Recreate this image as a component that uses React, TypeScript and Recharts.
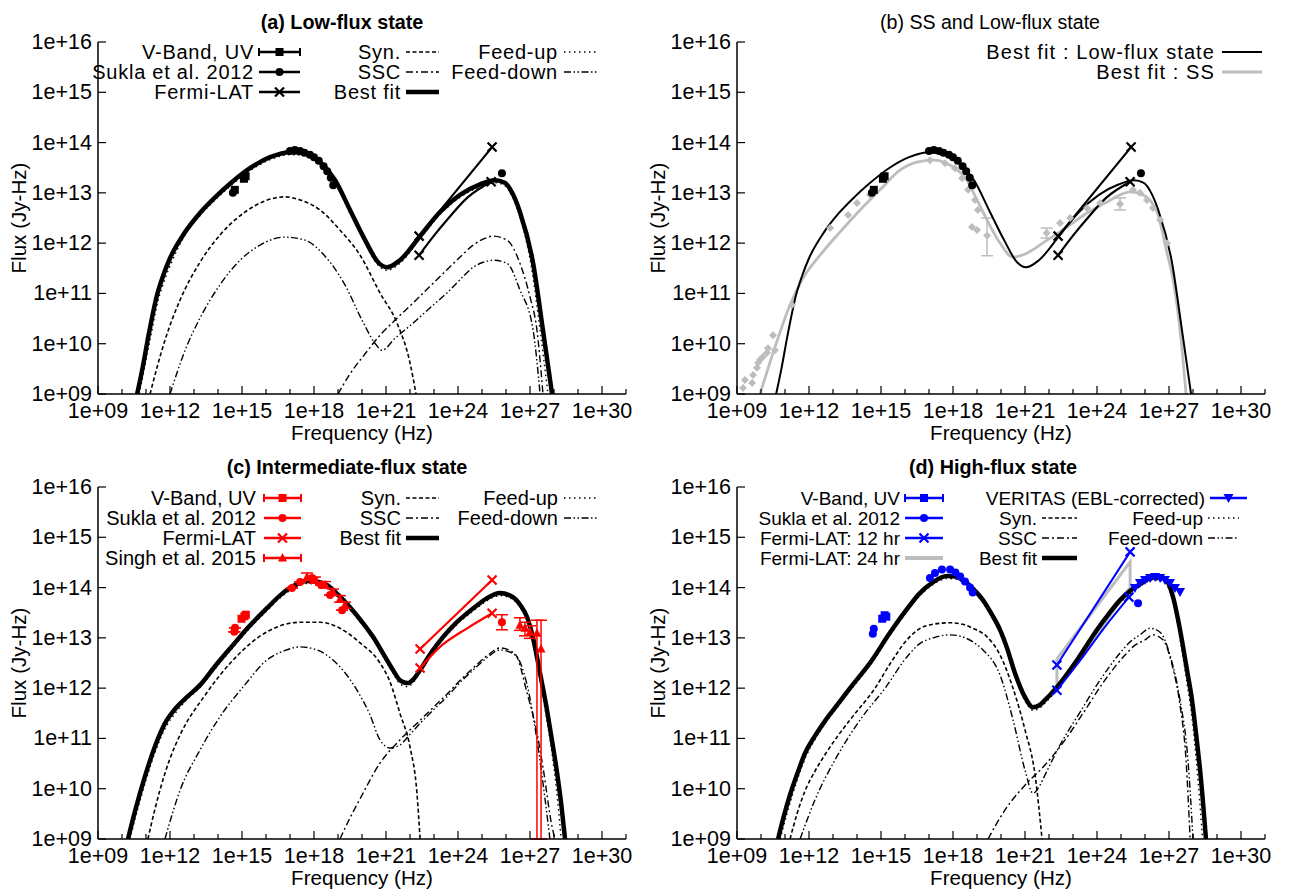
import React from 'react'
import { ComposedChart, Line, Scatter, XAxis, YAxis, ErrorBar } from 'recharts'

// all values are log10(frequency / Hz) and log10(flux / Jy-Hz)
type P = number[]

const FONT = '"Liberation Sans", Arial, Helvetica, sans-serif'
const X_TICKS = [9, 10, 11, 12, 13, 14, 15, 16, 17, 18, 19, 20, 21, 22, 23, 24, 25, 26, 27, 28, 29, 30, 31]
const Y_TICKS = [9, 10, 11, 12, 13, 14, 15, 16]
const RED = '#ff0000'
const BLUE = '#0000ff'
const GREY = '#bdbdbd'
const DASH = { syn: '4 2.5', ssc: '7 3 2 3', up: '1.5 3.5', down: '7 2.5 1.5 2.5 1.5 2.5' }
const FS = 21.5

// ---- (a) low-flux state
const lowBest: P[] = [[10.63, 9.0], [10.85, 9.5], [11.1, 10.15], [11.45, 10.95], [11.75, 11.4], [12.0, 11.7], [12.6, 12.2], [13.25, 12.6], [13.9, 12.92], [14.5, 13.18], [15.33, 13.49], [16.17, 13.71], [17.0, 13.81], [17.63, 13.79], [18.25, 13.61], [18.88, 13.25], [19.5, 12.66], [20.13, 12.06], [20.67, 11.62], [21.04, 11.52], [21.58, 11.66], [22.42, 12.14], [23.25, 12.62], [24.08, 12.96], [24.92, 13.17], [25.54, 13.25], [25.95, 13.2], [26.29, 12.97], [26.58, 12.62], [27.13, 11.6], [27.54, 10.27], [27.92, 9.0]]
const lowFeedUp: P[] = [[10.72, 9.0], [10.95, 9.55], [11.2, 10.15], [11.5, 10.85], [11.8, 11.3], [12.05, 11.6], [12.6, 12.14], [13.25, 12.55], [13.9, 12.87], [14.5, 13.13], [15.33, 13.44], [16.17, 13.66], [17.0, 13.76], [17.63, 13.74], [18.25, 13.56], [18.88, 13.2], [19.5, 12.61], [20.13, 12.01], [20.67, 11.56], [21.04, 11.46], [21.58, 11.6], [22.42, 12.09], [23.25, 12.57], [24.08, 12.91], [24.92, 13.12], [25.54, 13.2], [25.95, 13.14], [26.29, 12.9], [26.58, 12.52], [27.05, 11.55], [27.4, 10.35], [27.75, 9.0]]
const lowSyn: P[] = [[11.17, 9.0], [11.5, 9.6], [11.79, 10.07], [12.42, 10.87], [13.25, 11.62], [14.08, 12.16], [15.13, 12.62], [15.96, 12.84], [16.79, 12.92], [17.42, 12.86], [18.25, 12.66], [19.08, 12.26], [19.92, 11.76], [20.75, 11.01], [21.46, 10.41], [22.0, 9.62], [22.25, 9.0]]
const lowSSC: P[] = [[19.0, 9.0], [19.5, 9.4], [20.13, 9.8], [20.75, 10.17], [21.4, 10.48], [22.13, 10.81], [22.85, 11.15], [23.54, 11.47], [24.1, 11.73], [24.63, 11.96], [25.05, 12.08], [25.46, 12.14], [26.04, 12.06], [26.58, 11.6], [27.0, 10.93], [27.29, 10.27], [27.54, 9.0]]
const lowFeedDown: P[] = [[12.0, 9.0], [12.63, 9.87], [13.25, 10.51], [14.08, 11.17], [14.92, 11.66], [15.75, 11.96], [16.79, 12.12], [17.63, 12.06], [18.46, 11.74], [19.29, 11.17], [20.0, 10.47], [20.54, 10.01], [20.83, 9.87], [21.38, 10.11], [22.13, 10.41], [22.85, 10.72], [23.54, 11.01], [24.1, 11.28], [24.63, 11.52], [25.05, 11.62], [25.46, 11.66], [26.04, 11.6], [26.58, 11.07], [27.13, 10.27], [27.42, 9.0]]
const lowUV: P[] = [[14.7, 13.06], [15.08, 13.28], [15.15, 13.33]]
const lowSukla: P[] = [[14.62, 13.0], [17.0, 13.83], [17.2, 13.85], [17.42, 13.83], [17.6, 13.8], [17.83, 13.76], [18.0, 13.71], [18.2, 13.64], [18.4, 13.53], [18.55, 13.43], [18.7, 13.3], [18.8, 13.15], [25.83, 13.39]]
const lowFermiHi: P[] = [[22.38, 12.14], [25.42, 13.91]]
const lowFermiLo: P[] = [[22.38, 11.76], [23.0, 12.15], [23.54, 12.46], [24.38, 12.9], [25.38, 13.22]]

// ---- (b) SS state
const ssBest: P[] = [[9.96, 9.0], [10.58, 9.93], [11.21, 10.77], [11.71, 11.27], [12.46, 11.76], [13.29, 12.22], [14.13, 12.66], [14.96, 13.06], [15.79, 13.45], [16.5, 13.61], [17.17, 13.65], [17.88, 13.55], [18.58, 13.25], [19.0, 12.86], [19.42, 12.46], [19.96, 12.0], [20.5, 11.72], [21.08, 11.8], [21.92, 12.06], [22.75, 12.32], [23.58, 12.6], [24.42, 12.82], [25.38, 13.02], [25.92, 12.96], [26.5, 12.62], [26.92, 11.8], [27.17, 11.27], [27.46, 10.27], [27.71, 9.0]]
const ssData: P[] = [[9.25, 9.12], [9.33, 9.28], [9.63, 9.22], [9.67, 9.38], [9.83, 9.52], [9.88, 9.62], [9.96, 9.68], [10.08, 9.74], [10.25, 9.82], [10.29, 9.91], [10.5, 10.17], [10.58, 9.87], [11.29, 10.77], [12.88, 12.3], [13.63, 12.56], [14.0, 12.8], [14.54, 12.96], [17.04, 13.65], [17.67, 13.59], [18.08, 13.49], [18.38, 13.29], [18.63, 13.06], [18.92, 12.86], [19.04, 12.66], [18.79, 12.32], [19.0, 12.26], [22.46, 12.4], [22.88, 12.5], [23.58, 12.7], [24.13, 12.8], [25.5, 13.06], [25.79, 13.0], [26.08, 12.86], [26.33, 12.7], [26.63, 12.46], [26.92, 12.0]]
const ssErr: P[] = [[19.42, 12.15, 0.4, 0.35], [24.96, 12.78, 0.12, 0.12], [21.9, 12.2, 0.1, 0.1]]

// ---- (c) intermediate-flux state
const midBest: P[] = [[10.25, 9.0], [10.54, 9.55], [10.96, 10.25], [11.38, 10.85], [11.79, 11.3], [12.2, 11.58], [12.7, 11.82], [13.25, 12.06], [13.9, 12.45], [14.63, 12.86], [15.3, 13.23], [16.04, 13.59], [16.6, 13.85], [17.13, 14.03], [17.71, 14.13], [18.2, 14.11], [18.54, 14.05], [19.0, 13.86], [19.5, 13.61], [20.0, 13.32], [20.46, 13.02], [20.9, 12.67], [21.29, 12.36], [21.6, 12.15], [21.9, 12.1], [22.15, 12.18], [22.42, 12.36], [22.9, 12.72], [23.38, 13.02], [23.9, 13.29], [24.38, 13.49], [24.8, 13.65], [25.21, 13.79], [25.75, 13.89], [26.29, 13.81], [26.6, 13.65], [26.88, 13.41], [27.1, 13.05], [27.29, 12.62], [27.5, 12.1], [27.71, 11.56], [27.92, 10.95], [28.13, 10.31], [28.3, 9.7], [28.46, 9.0]]
const midFeedUp: P[] = [[10.33, 9.0], [10.6, 9.5], [11.0, 10.17], [11.42, 10.78], [11.83, 11.23], [12.25, 11.52], [12.7, 11.77], [13.25, 12.01], [13.9, 12.4], [14.63, 12.81], [15.3, 13.18], [16.04, 13.54], [16.6, 13.8], [17.13, 13.98], [17.71, 14.08], [18.2, 14.06], [18.54, 14.0], [19.0, 13.81], [19.5, 13.56], [20.0, 13.27], [20.46, 12.97], [20.9, 12.62], [21.29, 12.3], [21.6, 12.08], [21.9, 12.03], [22.15, 12.12], [22.42, 12.31], [22.9, 12.67], [23.38, 12.97], [23.9, 13.24], [24.38, 13.44], [24.8, 13.6], [25.21, 13.74], [25.75, 13.84], [26.29, 13.76], [26.6, 13.6], [26.88, 13.33], [27.1, 12.95], [27.29, 12.5], [27.5, 11.95], [27.71, 11.35], [27.92, 10.7], [28.1, 10.0], [28.3, 9.0]]
const midSyn: P[] = [[11.08, 9.0], [11.35, 9.55], [11.58, 9.97], [12.0, 10.6], [12.42, 11.07], [13.46, 11.86], [14.63, 12.56], [16.04, 13.12], [16.8, 13.27], [17.42, 13.31], [18.25, 13.31], [19.08, 13.19], [19.92, 12.9], [20.75, 12.5], [21.17, 12.12], [21.58, 11.5], [22.0, 10.83], [22.29, 9.91], [22.42, 9.0]]
const midSSC: P[] = [[19.08, 9.0], [19.5, 9.42], [19.92, 9.8], [20.75, 10.51], [21.58, 10.97], [22.42, 11.36], [23.0, 11.63], [23.54, 11.88], [24.1, 12.16], [24.63, 12.4], [25.2, 12.64], [25.75, 12.8], [26.38, 12.68], [26.88, 11.9], [27.29, 11.11], [27.54, 10.43], [27.92, 9.24], [28.04, 9.0]]
const midFeedDown: P[] = [[11.79, 9.0], [12.42, 9.97], [13.25, 10.77], [14.08, 11.43], [15.04, 12.02], [16.04, 12.56], [16.8, 12.75], [17.42, 12.82], [18.13, 12.76], [18.79, 12.56], [19.3, 12.3], [19.79, 11.96], [20.33, 11.47], [20.75, 10.97], [21.17, 10.81], [21.58, 10.87], [22.0, 11.08], [22.42, 11.3], [23.0, 11.58], [23.54, 11.83], [24.1, 12.12], [24.63, 12.36], [25.2, 12.6], [25.75, 12.76], [26.38, 12.66], [26.88, 12.06], [27.29, 10.97], [27.63, 9.78], [27.83, 9.0]]
const midUV: P[] = [[14.98, 13.38], [15.1, 13.43], [15.16, 13.46]]
const midSukla: P[] = [[14.68, 13.12], [14.71, 13.2], [17.08, 13.99], [17.42, 14.11], [17.92, 14.19], [18.3, 14.05], [18.67, 13.85], [19.17, 13.55], [25.83, 13.31, 0.15, 0.15]]
// the last two VHE points have lower bars reaching the bottom of the frame
const midSingh: P[] = [[17.71, 14.21, 0.07, 0.08], [18.04, 14.15, 0.06, 0.06], [18.46, 14.05, 0.06, 0.07], [18.79, 13.91, 0.06, 0.06], [19.08, 13.77, 0.06, 0.07], [19.29, 13.65, 0.06, 0.06], [26.58, 13.25, 0.1, 0.15], [26.79, 13.19, 0.15, 0.12], [27.0, 13.11, 0.12, 0.13], [27.29, 13.09, 4.09, 0.26], [27.46, 12.78, 3.78, 0.57]]
const midFermiHi: P[] = [[22.42, 12.78], [25.42, 14.15]]
const midFermiLo: P[] = [[22.42, 12.4], [23.25, 12.82], [24.38, 13.19], [25.42, 13.49]]

// ---- (d) high-flux state
const highBest: P[] = [[10.71, 9.0], [10.95, 9.45], [11.21, 9.88], [11.55, 10.35], [11.83, 10.7], [12.25, 11.05], [12.67, 11.35], [13.2, 11.68], [13.71, 12.0], [14.63, 12.56], [15.3, 13.05], [16.08, 13.57], [16.6, 13.88], [17.17, 14.11], [17.75, 14.23], [18.1, 14.22], [18.42, 14.15], [18.85, 13.97], [19.25, 13.75], [19.6, 13.48], [19.96, 13.16], [20.25, 12.8], [20.58, 12.3], [21.0, 11.82], [21.33, 11.62], [21.6, 11.66], [21.83, 11.76], [22.33, 12.02], [23.17, 12.56], [24.0, 13.16], [24.5, 13.48], [24.96, 13.75], [25.4, 13.94], [25.79, 14.07], [26.33, 14.2], [26.7, 14.2], [26.92, 14.13], [27.17, 13.81], [27.46, 13.16], [27.75, 12.36], [27.96, 11.76], [28.15, 11.0], [28.33, 10.2], [28.54, 9.0]]
const highFeedUp: P[] = [[10.8, 9.0], [11.05, 9.45], [11.3, 9.86], [11.6, 10.3], [11.88, 10.65], [12.25, 10.98], [12.67, 11.3], [13.2, 11.63], [13.71, 11.95], [14.63, 12.51], [15.3, 13.0], [16.08, 13.52], [16.6, 13.83], [17.17, 14.06], [17.75, 14.18], [18.1, 14.17], [18.42, 14.1], [18.85, 13.92], [19.25, 13.7], [19.6, 13.43], [19.96, 13.1], [20.25, 12.74], [20.58, 12.23], [21.0, 11.75], [21.33, 11.56], [21.6, 11.6], [21.83, 11.7], [22.33, 11.97], [23.17, 12.51], [24.0, 13.11], [24.5, 13.43], [24.96, 13.7], [25.4, 13.89], [25.79, 14.02], [26.33, 14.15], [26.7, 14.14], [26.92, 14.05], [27.17, 13.7], [27.46, 12.98], [27.75, 12.1], [27.96, 11.4], [28.15, 10.5], [28.4, 9.0]]
const highSyn: P[] = [[11.21, 9.0], [11.5, 9.5], [11.83, 9.95], [12.25, 10.35], [12.67, 10.68], [13.2, 11.05], [13.71, 11.37], [14.75, 12.0], [15.4, 12.5], [16.08, 12.96], [16.6, 13.18], [17.17, 13.27], [17.88, 13.3], [18.4, 13.27], [18.83, 13.19], [19.42, 13.02], [19.96, 12.66], [20.5, 12.0], [21.0, 11.17], [21.42, 10.27], [21.71, 9.0]]
const highSSC: P[] = [[19.46, 9.0], [20.17, 9.58], [21.0, 10.07], [21.83, 10.47], [22.67, 10.97], [23.5, 11.56], [24.33, 12.16], [25.17, 12.66], [25.6, 12.86], [26.0, 12.96], [26.33, 13.06], [26.75, 12.96], [27.13, 12.46], [27.46, 11.66], [27.71, 10.57], [27.88, 9.0]]
const highFeedDown: P[] = [[11.63, 9.0], [12.25, 9.78], [13.08, 10.57], [14.13, 11.37], [15.17, 12.0], [16.08, 12.62], [16.6, 12.88], [17.17, 13.0], [17.88, 13.06], [18.4, 13.02], [18.83, 12.92], [19.25, 12.76], [19.96, 12.26], [20.5, 11.37], [21.0, 10.37], [21.33, 9.91], [21.6, 10.05], [21.83, 10.27], [22.46, 10.87], [23.29, 11.52], [24.13, 12.16], [24.96, 12.7], [25.4, 12.93], [25.79, 13.06], [26.21, 13.19], [26.63, 13.11], [27.04, 12.66], [27.46, 11.76], [27.79, 10.57], [28.0, 9.0]]
const highUV: P[] = [[15.05, 13.38], [15.15, 13.45], [15.22, 13.42]]
const highSukla: P[] = [[14.66, 13.08], [14.7, 13.18], [17.04, 14.19], [17.25, 14.29], [17.54, 14.36], [17.88, 14.36], [18.1, 14.3], [18.3, 14.22], [18.5, 14.12], [18.71, 14.0], [18.82, 13.9], [25.71, 13.69]]
const highFermi12Hi: P[] = [[22.33, 12.46], [25.38, 14.71]]
const highFermi12Lo: P[] = [[22.33, 11.96], [23.3, 12.55], [24.3, 13.2], [25.33, 13.81]]
const highFermi24: P[] = [[22.33, 12.58], [25.38, 14.51], [25.38, 14.01], [22.33, 11.96], [22.33, 12.58]]
const highVeritas: P[] = [[25.58, 13.99], [25.79, 14.09], [26.0, 14.15], [26.21, 14.19], [26.42, 14.21], [26.63, 14.19], [26.83, 14.15], [27.04, 14.09], [27.25, 13.99], [27.46, 13.91]]

const xy = (pts: P[]) =>
  pts.map((p) => ({ x: p[0], y: p[1], ey: [p[2] ?? 0, p[3] ?? p[2] ?? 0] }))
const ends = (pts: P[]) => [pts[0], pts[pts.length - 1]]

function mark(kind: string, color: string, cx: number, cy: number) {
  switch (kind) {
    case 'square':
      return <rect x={cx - 4} y={cy - 4} width={8} height={8} fill={color} />
    case 'circle':
      return <circle cx={cx} cy={cy} r={4} fill={color} />
    case 'cross':
      return <path d={`M${cx - 4.5},${cy - 4.5}L${cx + 4.5},${cy + 4.5}M${cx - 4.5},${cy + 4.5}L${cx + 4.5},${cy - 4.5}`} stroke={color} strokeWidth={2.2} fill="none" />
    case 'tri':
      return <path d={`M${cx},${cy - 5}L${cx + 4.5},${cy + 3.5}L${cx - 4.5},${cy + 3.5}Z`} fill={color} />
    case 'dtri':
      return <path d={`M${cx},${cy + 5}L${cx + 5},${cy - 4}L${cx - 5},${cy - 4}Z`} fill={color} />
    default:
      return <path d={`M${cx},${cy - 4}L${cx + 4},${cy}L${cx},${cy + 4}L${cx - 4},${cy}Z`} fill={color} />
  }
}

const curve = (id: string, pts: P[], color: string, w: number, dash?: string, type: 'monotone' | 'linear' = 'monotone') => (
  <Line key={id} data={xy(pts)} dataKey="y" type={type} stroke={color} strokeWidth={w} strokeDasharray={dash}
    dot={false} activeDot={false} isAnimationActive={false} />
)

const points = (id: string, pts: P[], kind: string, color: string, err = false) => (
  <Scatter key={id} data={xy(pts)} dataKey="y" fill={color} isAnimationActive={false}
    shape={(p: any) => (p.cx == null ? <g /> : mark(kind, color, p.cx, p.cy))}>
    {err && <ErrorBar dataKey="ey" direction="y" width={6} stroke={color} strokeWidth={1.5} />}
  </Scatter>
)

const fmt = (v: number) => `1e+${String(v).padStart(2, '0')}`

function BottomTick(p: any) {
  const v = p.payload.value
  const major = (v - 9) % 3 === 0
  return (
    <g>
      <line x1={p.x} x2={p.x} y1={p.y} y2={p.y - (major ? 8 : 5)} stroke="#000" strokeWidth={1.2} />
      {major && <text x={p.x} y={p.y + 24} textAnchor="middle" fontSize={FS} fontFamily={FONT} fill="#000">{fmt(v)}</text>}
    </g>
  )
}
function TopTick(p: any) {
  const major = (p.payload.value - 9) % 3 === 0
  return <line x1={p.x} x2={p.x} y1={p.y} y2={p.y + (major ? 8 : 5)} stroke="#000" strokeWidth={1.2} />
}
function LeftTick(p: any) {
  return (
    <g>
      <line x1={p.x} x2={p.x + 8} y1={p.y} y2={p.y} stroke="#000" strokeWidth={1.2} />
      <text x={p.x - 6} y={p.y + 7} textAnchor="end" fontSize={FS} fontFamily={FONT} fill="#000">{fmt(p.payload.value)}</text>
    </g>
  )
}
function RightTick(p: any) {
  return <line x1={p.x} x2={p.x - 8} y1={p.y} y2={p.y} stroke="#000" strokeWidth={1.2} />
}

const AX = { stroke: '#000', strokeWidth: 1.5 }

function Panel({ left, top, children, overlay }: { left: number; top: number; children: React.ReactNode; overlay: React.ReactNode }) {
  return (
    <div style={{ position: 'absolute', left, top, width: 646, height: 446 }}>
      <ComposedChart width={646} height={446} margin={{ top: 42, right: 20, bottom: 0, left: 0 }}>
        <XAxis dataKey="x" type="number" domain={[9, 31]} ticks={X_TICKS} interval={0} allowDataOverflow
          height={52} tickSize={0} tickMargin={0} tickLine={false} axisLine={AX} tick={BottomTick} />
        <XAxis xAxisId="top" orientation="top" dataKey="x" type="number" domain={[9, 31]} ticks={X_TICKS} interval={0}
          allowDataOverflow height={0} tickSize={0} tickMargin={0} tickLine={false} axisLine={AX} tick={TopTick} />
        <YAxis dataKey="y" type="number" domain={[9, 16]} ticks={Y_TICKS} interval={0} allowDataOverflow
          width={98} tickSize={0} tickMargin={0} tickLine={false} axisLine={AX} tick={LeftTick} />
        <YAxis yAxisId="r" orientation="right" dataKey="y" type="number" domain={[9, 16]} ticks={Y_TICKS} interval={0}
          allowDataOverflow width={0} tickSize={0} tickMargin={0} tickLine={false} axisLine={AX} tick={RightTick} />
        {children}
      </ComposedChart>
      <svg width={646} height={446} style={{ position: 'absolute', left: 0, top: 0, pointerEvents: 'none' }}>
        <text x={362} y={440} textAnchor="middle" fontSize={20.6} fontFamily={FONT}>Frequency (Hz)</text>
        <text transform="translate(26,218) rotate(-90)" textAnchor="middle" fontSize={20.6} fontFamily={FONT}>Flux (Jy-Hz)</text>
        {overlay}
      </svg>
    </div>
  )
}

// ---- legend helpers (overlay only); each panel of the figure uses its own legend text size
type LF = { size: number; ls: number }
const LA: LF = { size: 20, ls: 0.75 }
const LB: LF = { size: 20, ls: 1.1 }
const LC: LF = { size: 20, ls: 0.05 }
const LD: LF = { size: 19, ls: 0 }

const label = (f: LF, x: number, y: number, s: string) => (
  <text x={x} y={y + 7} textAnchor="end" fontSize={f.size} letterSpacing={f.ls} fontFamily={FONT}>{s}</text>
)
const symSample = (x1: number, x2: number, y: number, kind: string, color: string, caps = false) => (
  <g>
    <line x1={x1} x2={x2} y1={y} y2={y} stroke={color} strokeWidth={2.5} />
    {caps && <line x1={x1} x2={x1} y1={y - 4} y2={y + 4} stroke={color} strokeWidth={2} />}
    {caps && <line x1={x2} x2={x2} y1={y - 4} y2={y + 4} stroke={color} strokeWidth={2} />}
    {mark(kind, color, (x1 + x2) / 2, y)}
  </g>
)
const lineSample = (x1: number, x2: number, y: number, color: string, w: number, dash?: string) => (
  <line x1={x1} x2={x2} y1={y} y2={y} stroke={color} strokeWidth={w} strokeDasharray={dash} />
)
const title = (s: string, x: number, bold: boolean) => (
  <text x={x} y={29} textAnchor="middle" fontSize={bold ? 19.8 : 19.6}
    fontWeight={bold ? 'bold' : 'normal'} fontFamily={FONT}>{s}</text>
)

function modelLegend(f: LF, r: number[]) {
  return (
    <g>
      {label(f, 401, r[0], 'Syn.')}{lineSample(406, 439, r[0], '#000', 1.6, DASH.syn)}
      {label(f, 401, r[1], 'SSC')}{lineSample(406, 439, r[1], '#000', 1.4, DASH.ssc)}
      {label(f, 401, r[2], 'Best fit')}{lineSample(406, 439, r[2], '#000', 4.5)}
      {label(f, 558, r[0], 'Feed-up')}{lineSample(564, 598, r[0], '#000', 1.4, DASH.up)}
      {label(f, 558, r[1], 'Feed-down')}{lineSample(564, 598, r[1], '#000', 1.4, DASH.down)}
    </g>
  )
}

const modelCurves = (k: string, syn: P[], ssc: P[], up: P[], down: P[]) => [
  curve(k + 'syn', syn, '#000', 1.6, DASH.syn),
  curve(k + 'ssc', ssc, '#000', 1.4, DASH.ssc),
  curve(k + 'down', down, '#000', 1.4, DASH.down),
  curve(k + 'up', up, '#000', 1.4, DASH.up),
]

export default function App() {
  return (
    <div style={{ position: 'absolute', left: 0, top: 0, width: 1292, height: 893, background: '#fff' }}>
      <Panel left={0} top={0} overlay={
        <g>
          {title('(a) Low-flux state', 342, true)}
          {label(LA, 254, 52, 'V-Band, UV')}{symSample(259, 300, 52, 'square', '#000', true)}
          {label(LA, 254, 72, 'Sukla et al. 2012')}{symSample(259, 300, 72, 'circle', '#000')}
          {label(LA, 254, 92, 'Fermi-LAT')}{symSample(259, 300, 92, 'cross', '#000')}
          {modelLegend(LA, [52, 72, 92])}
        </g>
      }>
        {modelCurves('a', lowSyn, lowSSC, lowFeedUp, lowFeedDown)}
        {curve('aFH', lowFermiHi, '#000', 2.2, undefined, 'linear')}
        {curve('aFL', lowFermiLo, '#000', 2.2, undefined, 'monotone')}
        {curve('aBest', lowBest, '#000', 4.5)}
        {points('aUV', lowUV, 'square', '#000')}
        {points('aSk', lowSukla, 'circle', '#000')}
        {points('aFx', [...ends(lowFermiHi), ...ends(lowFermiLo)], 'cross', '#000')}
      </Panel>

      <Panel left={639} top={0} overlay={
        <g>
          {title('(b) SS and Low-flux state', 351, false)}
          {label(LB, 576, 52, 'Best fit : Low-flux state')}{lineSample(583, 623, 52, '#000', 2.2)}
          {label(LB, 576, 72, 'Best fit : SS')}{lineSample(583, 623, 72, GREY, 2.8)}
        </g>
      }>
        {points('bSS', ssData, 'diamond', GREY)}
        {points('bSSe', ssErr, 'diamond', GREY, true)}
        {curve('bSSfit', ssBest, GREY, 2.8)}
        {curve('bFH', lowFermiHi, '#000', 2.2, undefined, 'linear')}
        {curve('bFL', lowFermiLo, '#000', 2.2, undefined, 'monotone')}
        {curve('bBest', lowBest, '#000', 2)}
        {points('bUV', lowUV, 'square', '#000')}
        {points('bSk', lowSukla, 'circle', '#000')}
        {points('bFx', [...ends(lowFermiHi), ...ends(lowFermiLo)], 'cross', '#000')}
      </Panel>

      <Panel left={0} top={445} overlay={
        <g>
          {title('(c) Intermediate-flux state', 347, true)}
          {label(LC, 256, 53, 'V-Band, UV')}{symSample(264, 301, 53, 'square', RED, true)}
          {label(LC, 256, 73, 'Sukla et al. 2012')}{symSample(264, 301, 73, 'circle', RED)}
          {label(LC, 256, 93, 'Fermi-LAT')}{symSample(264, 301, 93, 'cross', RED)}
          {label(LC, 256, 113, 'Singh et al. 2015')}{symSample(264, 301, 113, 'tri', RED, true)}
          {modelLegend(LC, [53, 73, 93])}
        </g>
      }>
        {modelCurves('c', midSyn, midSSC, midFeedUp, midFeedDown)}
        {curve('cBest', midBest, '#000', 4.5)}
        {curve('cFH', midFermiHi, RED, 2.2, undefined, 'linear')}
        {curve('cFL', midFermiLo, RED, 2.2, undefined, 'monotone')}
        {points('cUV', midUV, 'square', RED)}
        {points('cSk', midSukla, 'circle', RED, true)}
        {points('cSi', midSingh, 'tri', RED, true)}
        {points('cFx', [...ends(midFermiHi), ...ends(midFermiLo)], 'cross', RED)}
      </Panel>

      <Panel left={639} top={445} overlay={
        <g>
          {title('(d) High-flux state', 354, true)}
          {label(LD, 261, 53, 'V-Band, UV')}{symSample(266, 304, 53, 'square', BLUE, true)}
          {label(LD, 261, 73, 'Sukla et al. 2012')}{symSample(266, 304, 73, 'circle', BLUE)}
          {label(LD, 261, 93, 'Fermi-LAT: 12 hr')}{symSample(266, 304, 93, 'cross', BLUE)}
          {label(LD, 261, 113, 'Fermi-LAT: 24 hr')}{lineSample(266, 304, 113, GREY, 4)}
          {label(LD, 566, 53, 'VERITAS (EBL-corrected)')}{symSample(571, 608, 53, 'dtri', BLUE)}
          {label(LD, 398, 73, 'Syn.')}{lineSample(403, 438, 73, '#000', 1.6, DASH.syn)}
          {label(LD, 398, 93, 'SSC')}{lineSample(403, 438, 93, '#000', 1.4, DASH.ssc)}
          {label(LD, 398, 113, 'Best fit')}{lineSample(403, 438, 113, '#000', 4.5)}
          {label(LD, 564, 73, 'Feed-up')}{lineSample(569, 600, 73, '#000', 1.4, DASH.up)}
          {label(LD, 564, 93, 'Feed-down')}{lineSample(569, 600, 93, '#000', 1.4, DASH.down)}
        </g>
      }>
        {modelCurves('d', highSyn, highSSC, highFeedUp, highFeedDown)}
        {curve('dF24', highFermi24, GREY, 3, undefined, 'linear')}
        {curve('dBest', highBest, '#000', 4.5)}
        {curve('dFH', highFermi12Hi, BLUE, 2, undefined, 'linear')}
        {curve('dFL', highFermi12Lo, BLUE, 2, undefined, 'monotone')}
        {points('dUV', highUV, 'square', BLUE)}
        {points('dSk', highSukla, 'circle', BLUE)}
        {points('dVe', highVeritas, 'dtri', BLUE)}
        {points('dFx', [...ends(highFermi12Hi), ...ends(highFermi12Lo)], 'cross', BLUE)}
      </Panel>
    </div>
  )
}
